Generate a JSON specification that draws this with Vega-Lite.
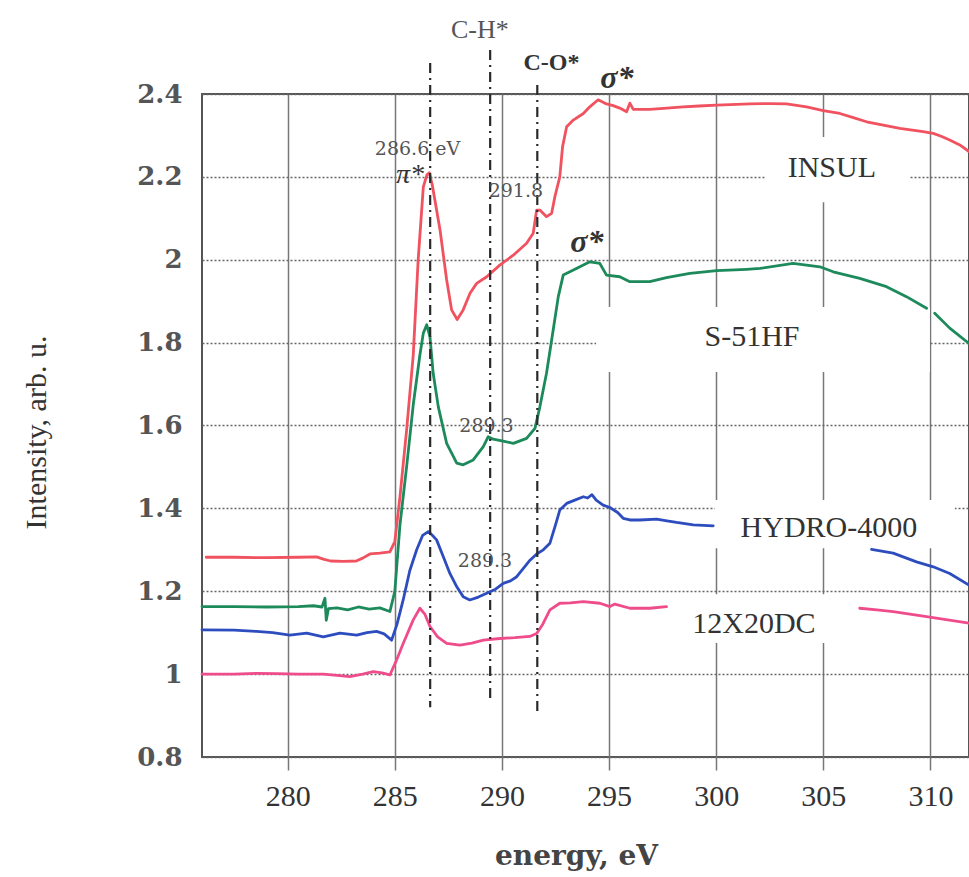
{
  "$schema": "https://vega.github.io/schema/vega-lite/v6.json",
  "width": 767,
  "height": 663,
  "autosize": {"type": "none"},
  "padding": {"left": 202, "top": 94, "right": 0, "bottom": 120},
  "background": "white",
  "config": {"view": {"stroke": "#555", "strokeWidth": 2}},
  "datasets": {
    "spectra": [
      {"s":"INSUL","g":1,"x":276.2,"y":1.282},{"s":"INSUL","g":1,"x":277.5,"y":1.282},{"s":"INSUL","g":1,"x":279,"y":1.281},{"s":"INSUL","g":1,"x":280.5,"y":1.282},{"s":"INSUL","g":1,"x":281.35,"y":1.283},{"s":"INSUL","g":1,"x":281.7,"y":1.277},{"s":"INSUL","g":1,"x":282,"y":1.273},{"s":"INSUL","g":1,"x":282.6,"y":1.272},{"s":"INSUL","g":1,"x":283.2,"y":1.273},{"s":"INSUL","g":1,"x":283.5,"y":1.28},{"s":"INSUL","g":1,"x":283.84,"y":1.29},{"s":"INSUL","g":1,"x":284.3,"y":1.292},{"s":"INSUL","g":1,"x":284.77,"y":1.295},{"s":"INSUL","g":1,"x":285.0,"y":1.32},{"s":"INSUL","g":1,"x":285.24,"y":1.428},{"s":"INSUL","g":1,"x":285.55,"y":1.589},{"s":"INSUL","g":1,"x":285.86,"y":1.77},{"s":"INSUL","g":1,"x":286.09,"y":2.0},{"s":"INSUL","g":1,"x":286.33,"y":2.176},{"s":"INSUL","g":1,"x":286.5,"y":2.205},{"s":"INSUL","g":1,"x":286.61,"y":2.21},{"s":"INSUL","g":1,"x":286.75,"y":2.18},{"s":"INSUL","g":1,"x":286.87,"y":2.144},{"s":"INSUL","g":1,"x":287.11,"y":2.072},{"s":"INSUL","g":1,"x":287.42,"y":1.951},{"s":"INSUL","g":1,"x":287.65,"y":1.879},{"s":"INSUL","g":1,"x":287.91,"y":1.856},{"s":"INSUL","g":1,"x":288.19,"y":1.879},{"s":"INSUL","g":1,"x":288.51,"y":1.919},{"s":"INSUL","g":1,"x":288.82,"y":1.943},{"s":"INSUL","g":1,"x":289.29,"y":1.959},{"s":"INSUL","g":1,"x":289.9,"y":1.987},{"s":"INSUL","g":1,"x":290.53,"y":2.011},{"s":"INSUL","g":1,"x":291.15,"y":2.04},{"s":"INSUL","g":1,"x":291.46,"y":2.064},{"s":"INSUL","g":1,"x":291.62,"y":2.12},{"s":"INSUL","g":1,"x":291.77,"y":2.12},{"s":"INSUL","g":1,"x":292.08,"y":2.104},{"s":"INSUL","g":1,"x":292.32,"y":2.112},{"s":"INSUL","g":1,"x":292.47,"y":2.152},{"s":"INSUL","g":1,"x":292.7,"y":2.2},{"s":"INSUL","g":1,"x":292.83,"y":2.273},{"s":"INSUL","g":1,"x":293.02,"y":2.321},{"s":"INSUL","g":1,"x":293.33,"y":2.337},{"s":"INSUL","g":1,"x":293.8,"y":2.353},{"s":"INSUL","g":1,"x":294.1,"y":2.369},{"s":"INSUL","g":1,"x":294.49,"y":2.386},{"s":"INSUL","g":1,"x":294.88,"y":2.376},{"s":"INSUL","g":1,"x":295.19,"y":2.372},{"s":"INSUL","g":1,"x":295.5,"y":2.366},{"s":"INSUL","g":1,"x":295.82,"y":2.357},{"s":"INSUL","g":1,"x":295.97,"y":2.378},{"s":"INSUL","g":1,"x":296.13,"y":2.363},{"s":"INSUL","g":1,"x":296.9,"y":2.363},{"s":"INSUL","g":1,"x":297.7,"y":2.366},{"s":"INSUL","g":1,"x":298.46,"y":2.369},{"s":"INSUL","g":1,"x":299.2,"y":2.371},{"s":"INSUL","g":1,"x":300.02,"y":2.373},{"s":"INSUL","g":1,"x":301.57,"y":2.376},{"s":"INSUL","g":1,"x":302.5,"y":2.377},{"s":"INSUL","g":1,"x":303.28,"y":2.376},{"s":"INSUL","g":1,"x":304.22,"y":2.369},{"s":"INSUL","g":1,"x":304.99,"y":2.36},{"s":"INSUL","g":1,"x":305.77,"y":2.353},{"s":"INSUL","g":1,"x":306.4,"y":2.343},{"s":"INSUL","g":1,"x":307.02,"y":2.333},{"s":"INSUL","g":1,"x":307.8,"y":2.325},{"s":"INSUL","g":1,"x":308.57,"y":2.317},{"s":"INSUL","g":1,"x":309.66,"y":2.309},{"s":"INSUL","g":1,"x":310.13,"y":2.305},{"s":"INSUL","g":1,"x":310.5,"y":2.298},{"s":"INSUL","g":1,"x":310.9,"y":2.289},{"s":"INSUL","g":1,"x":311.37,"y":2.277},{"s":"INSUL","g":1,"x":311.8,"y":2.261},

      {"s":"S-51HF","g":1,"x":276,"y":1.163},{"s":"S-51HF","g":1,"x":277.5,"y":1.163},{"s":"S-51HF","g":1,"x":279,"y":1.162},{"s":"S-51HF","g":1,"x":280.5,"y":1.163},{"s":"S-51HF","g":1,"x":281.2,"y":1.165},{"s":"S-51HF","g":1,"x":281.6,"y":1.162},{"s":"S-51HF","g":1,"x":281.74,"y":1.183},{"s":"S-51HF","g":1,"x":281.8,"y":1.13},{"s":"S-51HF","g":1,"x":281.9,"y":1.158},{"s":"S-51HF","g":1,"x":282.3,"y":1.16},{"s":"S-51HF","g":1,"x":282.8,"y":1.155},{"s":"S-51HF","g":1,"x":283.3,"y":1.162},{"s":"S-51HF","g":1,"x":283.8,"y":1.157},{"s":"S-51HF","g":1,"x":284.3,"y":1.16},{"s":"S-51HF","g":1,"x":284.77,"y":1.151},{"s":"S-51HF","g":1,"x":285.0,"y":1.2},{"s":"S-51HF","g":1,"x":285.24,"y":1.36},{"s":"S-51HF","g":1,"x":285.55,"y":1.5},{"s":"S-51HF","g":1,"x":285.86,"y":1.65},{"s":"S-51HF","g":1,"x":286.17,"y":1.77},{"s":"S-51HF","g":1,"x":286.33,"y":1.823},{"s":"S-51HF","g":1,"x":286.49,"y":1.843},{"s":"S-51HF","g":1,"x":286.64,"y":1.814},{"s":"S-51HF","g":1,"x":286.79,"y":1.726},{"s":"S-51HF","g":1,"x":287.03,"y":1.645},{"s":"S-51HF","g":1,"x":287.42,"y":1.557},{"s":"S-51HF","g":1,"x":287.89,"y":1.509},{"s":"S-51HF","g":1,"x":288.19,"y":1.505},{"s":"S-51HF","g":1,"x":288.66,"y":1.517},{"s":"S-51HF","g":1,"x":289.13,"y":1.549},{"s":"S-51HF","g":1,"x":289.36,"y":1.573},{"s":"S-51HF","g":1,"x":289.59,"y":1.567},{"s":"S-51HF","g":1,"x":290.0,"y":1.563},{"s":"S-51HF","g":1,"x":290.53,"y":1.557},{"s":"S-51HF","g":1,"x":291.15,"y":1.569},{"s":"S-51HF","g":1,"x":291.54,"y":1.593},{"s":"S-51HF","g":1,"x":291.77,"y":1.645},{"s":"S-51HF","g":1,"x":292.08,"y":1.726},{"s":"S-51HF","g":1,"x":292.39,"y":1.83},{"s":"S-51HF","g":1,"x":292.63,"y":1.911},{"s":"S-51HF","g":1,"x":292.86,"y":1.963},{"s":"S-51HF","g":1,"x":293.17,"y":1.971},{"s":"S-51HF","g":1,"x":293.64,"y":1.983},{"s":"S-51HF","g":1,"x":294.1,"y":1.995},{"s":"S-51HF","g":1,"x":294.57,"y":1.991},{"s":"S-51HF","g":1,"x":294.88,"y":1.963},{"s":"S-51HF","g":1,"x":295.5,"y":1.959},{"s":"S-51HF","g":1,"x":295.97,"y":1.947},{"s":"S-51HF","g":1,"x":296.9,"y":1.947},{"s":"S-51HF","g":1,"x":297.68,"y":1.957},{"s":"S-51HF","g":1,"x":298.77,"y":1.967},{"s":"S-51HF","g":1,"x":300.02,"y":1.974},{"s":"S-51HF","g":1,"x":301.42,"y":1.977},{"s":"S-51HF","g":1,"x":302.04,"y":1.979},{"s":"S-51HF","g":1,"x":303.59,"y":1.991},{"s":"S-51HF","g":1,"x":304.84,"y":1.983},{"s":"S-51HF","g":1,"x":305.46,"y":1.971},{"s":"S-51HF","g":1,"x":306.7,"y":1.955},{"s":"S-51HF","g":1,"x":307.95,"y":1.935},{"s":"S-51HF","g":1,"x":308.88,"y":1.911},{"s":"S-51HF","g":1,"x":309.82,"y":1.883},{"s":"S-51HF","g":2,"x":310.2,"y":1.871},{"s":"S-51HF","g":2,"x":310.9,"y":1.835},{"s":"S-51HF","g":2,"x":311.8,"y":1.798},

      {"s":"HYDRO-4000","g":1,"x":276,"y":1.107},{"s":"HYDRO-4000","g":1,"x":277.5,"y":1.106},{"s":"HYDRO-4000","g":1,"x":278.55,"y":1.103},{"s":"HYDRO-4000","g":1,"x":279.3,"y":1.1},{"s":"HYDRO-4000","g":1,"x":280.1,"y":1.094},{"s":"HYDRO-4000","g":1,"x":280.89,"y":1.099},{"s":"HYDRO-4000","g":1,"x":281.66,"y":1.09},{"s":"HYDRO-4000","g":1,"x":282.44,"y":1.099},{"s":"HYDRO-4000","g":1,"x":283.22,"y":1.094},{"s":"HYDRO-4000","g":1,"x":283.7,"y":1.1},{"s":"HYDRO-4000","g":1,"x":284.15,"y":1.103},{"s":"HYDRO-4000","g":1,"x":284.5,"y":1.097},{"s":"HYDRO-4000","g":1,"x":284.85,"y":1.082},{"s":"HYDRO-4000","g":1,"x":285.1,"y":1.12},{"s":"HYDRO-4000","g":1,"x":285.39,"y":1.179},{"s":"HYDRO-4000","g":1,"x":285.7,"y":1.25},{"s":"HYDRO-4000","g":1,"x":286.02,"y":1.3},{"s":"HYDRO-4000","g":1,"x":286.3,"y":1.335},{"s":"HYDRO-4000","g":1,"x":286.56,"y":1.344},{"s":"HYDRO-4000","g":1,"x":286.75,"y":1.335},{"s":"HYDRO-4000","g":1,"x":286.95,"y":1.324},{"s":"HYDRO-4000","g":1,"x":287.25,"y":1.285},{"s":"HYDRO-4000","g":1,"x":287.57,"y":1.243},{"s":"HYDRO-4000","g":1,"x":287.9,"y":1.21},{"s":"HYDRO-4000","g":1,"x":288.19,"y":1.187},{"s":"HYDRO-4000","g":1,"x":288.5,"y":1.179},{"s":"HYDRO-4000","g":1,"x":288.9,"y":1.186},{"s":"HYDRO-4000","g":1,"x":289.29,"y":1.195},{"s":"HYDRO-4000","g":1,"x":289.7,"y":1.205},{"s":"HYDRO-4000","g":1,"x":290.06,"y":1.219},{"s":"HYDRO-4000","g":1,"x":290.4,"y":1.225},{"s":"HYDRO-4000","g":1,"x":290.69,"y":1.235},{"s":"HYDRO-4000","g":1,"x":291.0,"y":1.255},{"s":"HYDRO-4000","g":1,"x":291.31,"y":1.275},{"s":"HYDRO-4000","g":1,"x":291.62,"y":1.29},{"s":"HYDRO-4000","g":1,"x":291.93,"y":1.3},{"s":"HYDRO-4000","g":1,"x":292.24,"y":1.316},{"s":"HYDRO-4000","g":1,"x":292.5,"y":1.36},{"s":"HYDRO-4000","g":1,"x":292.7,"y":1.396},{"s":"HYDRO-4000","g":1,"x":293.02,"y":1.412},{"s":"HYDRO-4000","g":1,"x":293.4,"y":1.42},{"s":"HYDRO-4000","g":1,"x":293.8,"y":1.428},{"s":"HYDRO-4000","g":1,"x":294.0,"y":1.425},{"s":"HYDRO-4000","g":1,"x":294.2,"y":1.433},{"s":"HYDRO-4000","g":1,"x":294.4,"y":1.42},{"s":"HYDRO-4000","g":1,"x":294.72,"y":1.408},{"s":"HYDRO-4000","g":1,"x":295.04,"y":1.402},{"s":"HYDRO-4000","g":1,"x":295.4,"y":1.39},{"s":"HYDRO-4000","g":1,"x":295.66,"y":1.376},{"s":"HYDRO-4000","g":1,"x":295.97,"y":1.372},{"s":"HYDRO-4000","g":1,"x":296.44,"y":1.372},{"s":"HYDRO-4000","g":1,"x":297.22,"y":1.374},{"s":"HYDRO-4000","g":1,"x":297.7,"y":1.37},{"s":"HYDRO-4000","g":1,"x":298.15,"y":1.366},{"s":"HYDRO-4000","g":1,"x":298.93,"y":1.36},{"s":"HYDRO-4000","g":1,"x":299.86,"y":1.358},{"s":"HYDRO-4000","g":2,"x":307.25,"y":1.301},{"s":"HYDRO-4000","g":2,"x":308.26,"y":1.292},{"s":"HYDRO-4000","g":2,"x":309.35,"y":1.271},{"s":"HYDRO-4000","g":2,"x":310.13,"y":1.259},{"s":"HYDRO-4000","g":2,"x":310.9,"y":1.243},{"s":"HYDRO-4000","g":2,"x":311.8,"y":1.215},

      {"s":"12X20DC","g":1,"x":276,"y":1.0},{"s":"12X20DC","g":1,"x":277.5,"y":1.0},{"s":"12X20DC","g":1,"x":278.55,"y":1.002},{"s":"12X20DC","g":1,"x":279.5,"y":1.001},{"s":"12X20DC","g":1,"x":280.5,"y":1.0},{"s":"12X20DC","g":1,"x":281.66,"y":1.0},{"s":"12X20DC","g":1,"x":282.3,"y":0.997},{"s":"12X20DC","g":1,"x":282.9,"y":0.994},{"s":"12X20DC","g":1,"x":283.5,"y":1.0},{"s":"12X20DC","g":1,"x":283.99,"y":1.006},{"s":"12X20DC","g":1,"x":284.4,"y":1.003},{"s":"12X20DC","g":1,"x":284.77,"y":0.998},{"s":"12X20DC","g":1,"x":285.05,"y":1.03},{"s":"12X20DC","g":1,"x":285.39,"y":1.074},{"s":"12X20DC","g":1,"x":285.86,"y":1.131},{"s":"12X20DC","g":1,"x":286.17,"y":1.159},{"s":"12X20DC","g":1,"x":286.4,"y":1.145},{"s":"12X20DC","g":1,"x":286.64,"y":1.115},{"s":"12X20DC","g":1,"x":287.0,"y":1.09},{"s":"12X20DC","g":1,"x":287.42,"y":1.074},{"s":"12X20DC","g":1,"x":288.04,"y":1.07},{"s":"12X20DC","g":1,"x":288.6,"y":1.075},{"s":"12X20DC","g":1,"x":289.13,"y":1.082},{"s":"12X20DC","g":1,"x":289.9,"y":1.086},{"s":"12X20DC","g":1,"x":290.6,"y":1.088},{"s":"12X20DC","g":1,"x":291.3,"y":1.091},{"s":"12X20DC","g":1,"x":291.62,"y":1.098},{"s":"12X20DC","g":1,"x":291.9,"y":1.12},{"s":"12X20DC","g":1,"x":292.24,"y":1.155},{"s":"12X20DC","g":1,"x":292.7,"y":1.171},{"s":"12X20DC","g":1,"x":293.2,"y":1.172},{"s":"12X20DC","g":1,"x":293.8,"y":1.175},{"s":"12X20DC","g":1,"x":294.57,"y":1.171},{"s":"12X20DC","g":1,"x":295.04,"y":1.163},{"s":"12X20DC","g":1,"x":295.27,"y":1.169},{"s":"12X20DC","g":1,"x":295.97,"y":1.159},{"s":"12X20DC","g":1,"x":296.9,"y":1.159},{"s":"12X20DC","g":1,"x":297.68,"y":1.163},{"s":"12X20DC","g":2,"x":306.7,"y":1.159},{"s":"12X20DC","g":2,"x":307.5,"y":1.155},{"s":"12X20DC","g":2,"x":308.26,"y":1.151},{"s":"12X20DC","g":2,"x":309.82,"y":1.139},{"s":"12X20DC","g":2,"x":311.8,"y":1.123}
    ],
    "masks": [
      {"x":302.27,"x2":309.04,"y":2.139,"y2":2.296},
      {"x":294.4,"x2":309.97,"y":1.729,"y2":1.886},
      {"x":299.94,"x2":311.14,"y":1.304,"y2":1.42},
      {"x":297.7,"x2":306.7,"y":1.075,"y2":1.193}
    ],
    "markers": [
      {"x":286.65,"y":2.475,"y2":0.92},
      {"x":289.45,"y":2.506,"y2":0.935},
      {"x":291.65,"y":2.422,"y2":0.91}
    ],
    "curveLabels": [
      {"t":"INSUL","x":305.4,"y":2.221},
      {"t":"S-51HF","x":301.67,"y":1.814},
      {"t":"HYDRO-4000","x":305.26,"y":1.353},
      {"t":"12X20DC","x":301.76,"y":1.121}
    ],
    "energyLabels": [
      {"t":"286.6 eV","x":286.06,"y":2.268},
      {"t":"291.8","x":290.65,"y":2.167},
      {"t":"289.3","x":289.28,"y":1.599},
      {"t":"289.3","x":289.21,"y":1.272}
    ],
    "chLabel": [{"t":"C-H*","x":288.97,"y":2.554}],
    "coLabel": [{"t":"C-O*","x":292.31,"y":2.476}],
    "sigmaLabels": [
      {"t":"σ*","x":295.37,"y":2.414},
      {"t":"σ*","x":293.97,"y":2.019}
    ],
    "piLabel": [{"t":"π*","x":285.71,"y":2.185}]
  },
  "encoding": {
    "x": {
      "field": "x", "type": "quantitative",
      "scale": {"domain": [276, 311.8], "nice": false, "zero": false},
      "axis": {
        "values": [280, 285, 290, 295, 300, 305, 310],
        "grid": true, "gridColor": "#777", "gridWidth": 1.5,
        "domain": false,
        "ticks": true, "tickSize": 13, "tickColor": "#777", "tickWidth": 1.5,
        "labelFont": "Liberation Serif", "labelFontSize": 30, "labelColor": "#333",
        "labelPadding": 11, "labelFlush": false, "labelOverlap": false,
        "title": "energy, eV",
        "titleFont": "DejaVu Serif", "titleFontSize": 28, "titleFontWeight": "bold", "titleColor": "#444",
        "titleX": 374, "titleY": 99, "titleBaseline": "middle", "titleAlign": "center"
      }
    },
    "y": {
      "field": "y", "type": "quantitative",
      "scale": {"domain": [0.8, 2.4], "nice": false, "zero": false},
      "axis": {
        "values": [0.8, 1, 1.2, 1.4, 1.6, 1.8, 2, 2.2, 2.4],
        "format": "~g",
        "grid": true, "gridDash": [2, 2], "gridColor": "#666", "gridWidth": 1.5,
        "domain": false, "ticks": false, "tickSize": 0,
        "labelFont": "DejaVu Serif", "labelFontSize": 26, "labelFontWeight": "bold", "labelColor": "#555",
        "labelPadding": 20, "labelFlush": false, "labelOverlap": false,
        "title": "Intensity, arb. u.",
        "titleFont": "Liberation Serif", "titleFontSize": 30, "titleFontWeight": "normal", "titleColor": "#333",
        "titleX": -166, "titleY": 338, "titleBaseline": "middle", "titleAlign": "center", "titleAngle": -90
      }
    }
  },
  "layer": [
    {
      "data": {"name": "masks"},
      "mark": {"type": "rect", "fill": "white", "stroke": null},
      "encoding": {"x2": {"field": "x2"}, "y2": {"field": "y2"}}
    },
    {
      "data": {"name": "spectra"},
      "mark": {"type": "line", "strokeWidth": 2.8, "strokeJoin": "round", "strokeCap": "round"},
      "encoding": {
        "color": {"field": "s", "type": "nominal",
          "scale": {"domain": ["INSUL", "S-51HF", "HYDRO-4000", "12X20DC"], "range": ["#f0525f", "#1c8a5a", "#2d4dbf", "#ef4c8c"]},
          "legend": null},
        "detail": {"field": "g", "type": "nominal"}
      }
    },
    {
      "data": {"name": "markers"},
      "mark": {"type": "rule", "color": "#2a2a2a", "strokeWidth": 2.2, "strokeDash": [10, 5, 2, 5]},
      "encoding": {"y2": {"field": "y2"}}
    },
    {
      "data": {"name": "curveLabels"},
      "mark": {"type": "text", "font": "Liberation Serif", "fontSize": 30, "color": "#333", "align": "center", "baseline": "middle"},
      "encoding": {"text": {"field": "t"}}
    },
    {
      "data": {"name": "energyLabels"},
      "mark": {"type": "text", "font": "DejaVu Serif", "fontSize": 19, "color": "#555", "align": "center", "baseline": "middle"},
      "encoding": {"text": {"field": "t"}}
    },
    {
      "data": {"name": "chLabel"},
      "mark": {"type": "text", "font": "Liberation Serif", "fontSize": 26, "color": "#555", "align": "center", "baseline": "middle"},
      "encoding": {"text": {"field": "t"}}
    },
    {
      "data": {"name": "coLabel"},
      "mark": {"type": "text", "font": "Liberation Serif", "fontSize": 24, "fontWeight": "bold", "color": "#333", "align": "center", "baseline": "middle"},
      "encoding": {"text": {"field": "t"}}
    },
    {
      "data": {"name": "sigmaLabels"},
      "mark": {"type": "text", "font": "Liberation Serif", "fontSize": 32, "fontWeight": "bold", "fontStyle": "italic", "color": "#333", "align": "center", "baseline": "alphabetic"},
      "encoding": {"text": {"field": "t"}}
    },
    {
      "data": {"name": "piLabel"},
      "mark": {"type": "text", "font": "Liberation Serif", "fontSize": 28, "fontStyle": "italic", "color": "#333", "align": "center", "baseline": "alphabetic"},
      "encoding": {"text": {"field": "t"}}
    }
  ]
}
